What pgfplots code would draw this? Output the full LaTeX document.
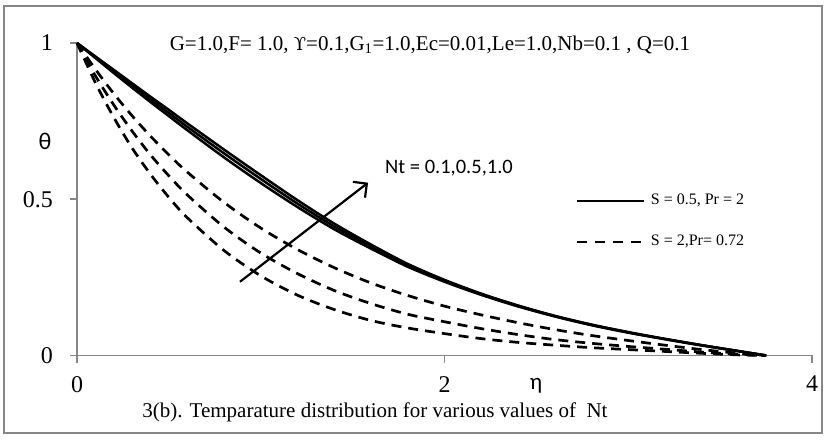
\documentclass[border=0pt]{standalone}
\usepackage{fontspec}
\setmainfont{Liberation Serif}
\newfontfamily\calibri{Carlito}
\newfontfamily\dvs{DejaVu Serif}
\usepackage{pgfplots}
\pgfplotsset{compat=1.18}
\usepackage{pgfplotstable}
\usetikzlibrary{arrows.meta}
\definecolor{axisgray}{RGB}{134,134,134}

% theta(eta); s = solid (S=0.5, Pr=2), d = dashed (S=2, Pr=0.72); 1,2,3 -> Nt = 0.1, 0.5, 1.0
\pgfplotstableread{
eta   s1    s2    s3    d1    d2    d3
0     1     1     1     1     1     1
0.1   0.952 0.955 0.957 0.873 0.895 0.916
0.2   0.904 0.909 0.914 0.762 0.802 0.838
0.3   0.857 0.864 0.871 0.664 0.718 0.767
0.4   0.811 0.820 0.828 0.580 0.642 0.702
0.5   0.766 0.776 0.786 0.506 0.575 0.642
0.6   0.721 0.732 0.743 0.441 0.514 0.587
0.8   0.634 0.647 0.659 0.336 0.411 0.490
1.0   0.552 0.565 0.577 0.255 0.328 0.408
1.2   0.475 0.486 0.497 0.193 0.262 0.339
1.4   0.404 0.413 0.422 0.147 0.208 0.281
1.6   0.342 0.349 0.355 0.112 0.166 0.232
1.8   0.284 0.289 0.293 0.088 0.132 0.192
2.0   0.236 0.239 0.242 0.070 0.108 0.158
2.2   0.194 0.196 0.198 0.054 0.086 0.130
2.4   0.157 0.159 0.160 0.042 0.067 0.105
2.6   0.125 0.126 0.127 0.033 0.051 0.083
2.8   0.097 0.098 0.099 0.025 0.039 0.064
3.0   0.073 0.074 0.075 0.019 0.029 0.048
3.2   0.052 0.053 0.053 0.013 0.020 0.033
3.4   0.032 0.033 0.033 0.007 0.011 0.019
3.6   0.014 0.014 0.014 0.002 0.004 0.007
3.75  0     0     0     0     0     0
}\thetadata

\begin{document}
\begin{tikzpicture}[x=1pt,y=1pt]
\useasboundingbox (0,0) rectangle (827,439);
\draw[axisgray, line width=1.2pt] (4,6) rectangle (822,433);
\begin{axis}[at={(77pt,83.5pt)}, anchor=south west,
  scale only axis, width=735pt, height=312.5pt,
  xmin=0, xmax=4, ymin=0, ymax=1,
  axis lines=left, axis line style={-, draw=axisgray, line width=1.5pt},
  xtick={0,2,4}, ytick={0,0.5,1},
  tick align=outside, major tick length=7pt,
  tick style={draw=axisgray, line width=1.5pt},
  ticklabel style={font=\fontsize{24}{24}\selectfont, inner sep=0pt},
  xticklabel style={anchor=north, yshift=-13.5pt},
  yticklabel style={anchor=east, xshift=-17pt},
  /pgf/number format/assume math mode=true,
  clip=false,
  legend image code/.code={\draw[#1] (0pt,0pt) -- (67pt,0pt);},
  legend cell align=left,
  legend style={draw=none, fill=none, inner sep=0pt, column sep=6pt, row sep=25pt,
    at={(0.6776,0.521)}, anchor=north west,
    nodes={inner sep=0pt, text height=12pt, text depth=4pt},
    font=\fontsize{16}{16}\selectfont},
]
\addplot[black, line width=2.5pt, smooth, forget plot] table[x=eta, y=s1] {\thetadata};
\addplot[black, line width=2.5pt, smooth, forget plot] table[x=eta, y=s2] {\thetadata};
\addplot[black, line width=2.5pt, smooth, forget plot] table[x=eta, y=s3] {\thetadata};
\addplot[black, line width=2.7pt, dash pattern=on 10pt off 7pt, smooth, forget plot] table[x=eta, y=d1] {\thetadata};
\addplot[black, line width=2.7pt, dash pattern=on 10pt off 7pt, smooth, forget plot] table[x=eta, y=d2] {\thetadata};
\addplot[black, line width=2.7pt, dash pattern=on 10pt off 7pt, smooth, forget plot] table[x=eta, y=d3] {\thetadata};
\addlegendimage{black, line width=2.7pt}
\addlegendentry{S = 0.5, Pr = 2}
\addlegendimage{black, line width=2.7pt, dash pattern=on 10pt off 8pt}
\addlegendentry{S = 2,Pr= 0.72}
\draw[line width=2.2pt, -{Straight Barb[length=10pt, width=20pt]}] (axis cs:0.887,0.236) -- (axis cs:1.584,0.553);
\end{axis}
\node[anchor=base, font=\fontsize{21}{21}\selectfont] at (430,388.5)
  {G=1.0,F= 1.0, {\dvs\fontsize{18}{18}\selectfont ϒ}=0.1,G\textsubscript{1}=1.0,Ec=0.01,Le=1.0,Nb=0.1 , Q=0.1};
\node[anchor=base, font=\calibri\fontsize{20.5}{20.5}\selectfont] at (449,265) {Nt = 0.1,0.5,1.0};
\node[anchor=base, font=\calibri\fontsize{24}{24}\selectfont] at (45,289) {θ};
\node[anchor=base, font=\calibri\fontsize{23}{23}\selectfont] at (536,49) {η};
\node[anchor=base, font=\fontsize{21}{21}\selectfont] at (375,22) {3(b). Temparature distribution for various values of \ Nt};
\end{tikzpicture}
\end{document}
